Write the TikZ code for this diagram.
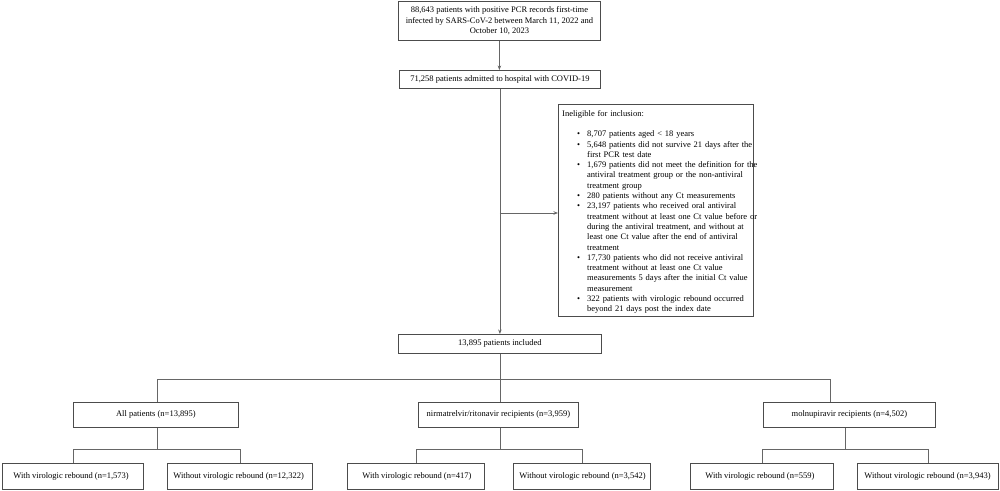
\documentclass[tikz,border=0pt]{standalone}
\usepackage{fontspec}
\setmainfont{Liberation Serif}
\usetikzlibrary{arrows.meta}
\newcommand\fsz{\fontsize{8.5}{10.3}\selectfont}
\newcommand\bul[1]{\par\hangindent=25pt\hangafter=1\noindent\hspace*{15pt}\makebox[10pt][l]{\textbullet}#1}
\begin{document}
\begin{tikzpicture}[x=1pt,y=-1pt,
  box/.style={draw=black!70, line width=0.8pt, rectangle, inner sep=0pt, font=\fsz, anchor=north west},
  bot/.style={box, minimum height=26pt},
  mid/.style={box, minimum height=25pt},
  ln/.style={draw=black!60, line width=0.8pt},
  arr/.style={ln, -{Stealth[length=4.5pt,width=3.5pt]}}]
\useasboundingbox[fill=white] (0,0) rectangle (1000,490);

% top chain
\node[box, minimum width=202pt, minimum height=39pt, align=center] (n1) at (398,1)
  {88,643 patients with positive PCR records first-time\\infected by SARS-CoV-2 between March 11, 2022 and\\October 10, 2023};
\node[box, minimum width=201pt, minimum height=18pt] (n2) at (399,70)
  {71,258 patients admitted to hospital with COVID-19};
\node[box, minimum width=203pt, minimum height=19pt] (n3) at (398,334)
  {13,895 patients included};

% exclusion box
\node[box, minimum width=195pt, minimum height=212pt] (ex) at (558,104) {};
\node[anchor=north west, inner sep=0pt, text width=215pt, align=left, font=\fsz] (ext) at (562,110)
  {\noindent Ineligible for inclusion:\par\vspace{10.3pt}%
   \bul{8,707 patients aged < 18 years}%
   \bul{5,648 patients did not survive 21 days after the\newline first PCR test date}%
   \bul{1,679 patients did not meet the definition for the\newline antiviral treatment group or the non-antiviral\newline treatment group}%
   \bul{280 patients without any Ct measurements}%
   \bul{23,197 patients who received oral antiviral\newline treatment without at least one Ct value before or\newline during the antiviral treatment, and without at\newline least one Ct value after the end of antiviral\newline treatment}%
   \bul{17,730 patients who did not receive antiviral\newline treatment without at least one Ct value\newline measurements 5 days after the initial Ct value\newline measurement}%
   \bul{322 patients with virologic rebound occurred\newline beyond 21 days post the index date}\par};

% second level
\node[mid, minimum width=165pt] (all) at (73,402) {All patients (n=13,895)};
\node[mid, minimum width=160pt] (nir) at (418,402) {nirmatrelvir/ritonavir recipients (n=3,959)};
\node[mid, minimum width=172pt] (mol) at (763,402) {molnupiravir recipients (n=4,502)};

% bottom level
\node[bot, inner xsep=11pt] (aw) at (2,463) {\makebox[119pt][l]{With virologic rebound (n=1,573)}};
\node[bot, inner xsep=6pt] (ao) at (167,463) {\makebox[133pt][l]{Without virologic rebound (n=12,322)}};
\node[bot, inner xsep=15pt] (nw) at (347,463) {\makebox[107pt][l]{With virologic rebound (n=417)}};
\node[bot, inner xsep=6pt] (no) at (513,463) {\makebox[125pt][l]{Without virologic rebound (n=3,542)}};
\node[bot, inner xsep=15pt] (mw) at (690,463) {\makebox[113pt][l]{With virologic rebound (n=559)}};
\node[bot, inner xsep=7pt] (mo) at (857,463) {\makebox[127pt][l]{Without virologic rebound (n=3,943)}};

% connectors
\draw[arr] (n1.south) -- (n1.south |- n2.north);
\draw[arr] (n2.south) -- (n2.south |- n3.north);
\coordinate (exin) at (558,213);
\draw[arr] (n2.south |- exin) -- (exin);

\coordinate (ta) at (157,379);
\coordinate (tm) at (830,379);
\draw[ln] (n3.south) -- (n3.south |- nir.north);
\draw[ln] (ta |- all.north) -- (ta) -- (tm) -- (tm |- mol.north);

\coordinate (ba) at (157,449);
\draw[ln] (ba |- all.south) -- (ba);
\draw[ln] (aw.north) -- (aw.north |- ba) -- (ao.north |- ba) -- (ao.north);

\coordinate (bn) at (n3.south |- 0,449);
\draw[ln] (bn |- nir.south) -- (bn);
\draw[ln] (nw.north) -- (nw.north |- bn) -- (no.north |- bn) -- (no.north);

\coordinate (bm) at (845,449);
\draw[ln] (bm |- mol.south) -- (bm);
\draw[ln] (mw.north) -- (mw.north |- bm) -- (mo.north |- bm) -- (mo.north);
\end{tikzpicture}
\end{document}
